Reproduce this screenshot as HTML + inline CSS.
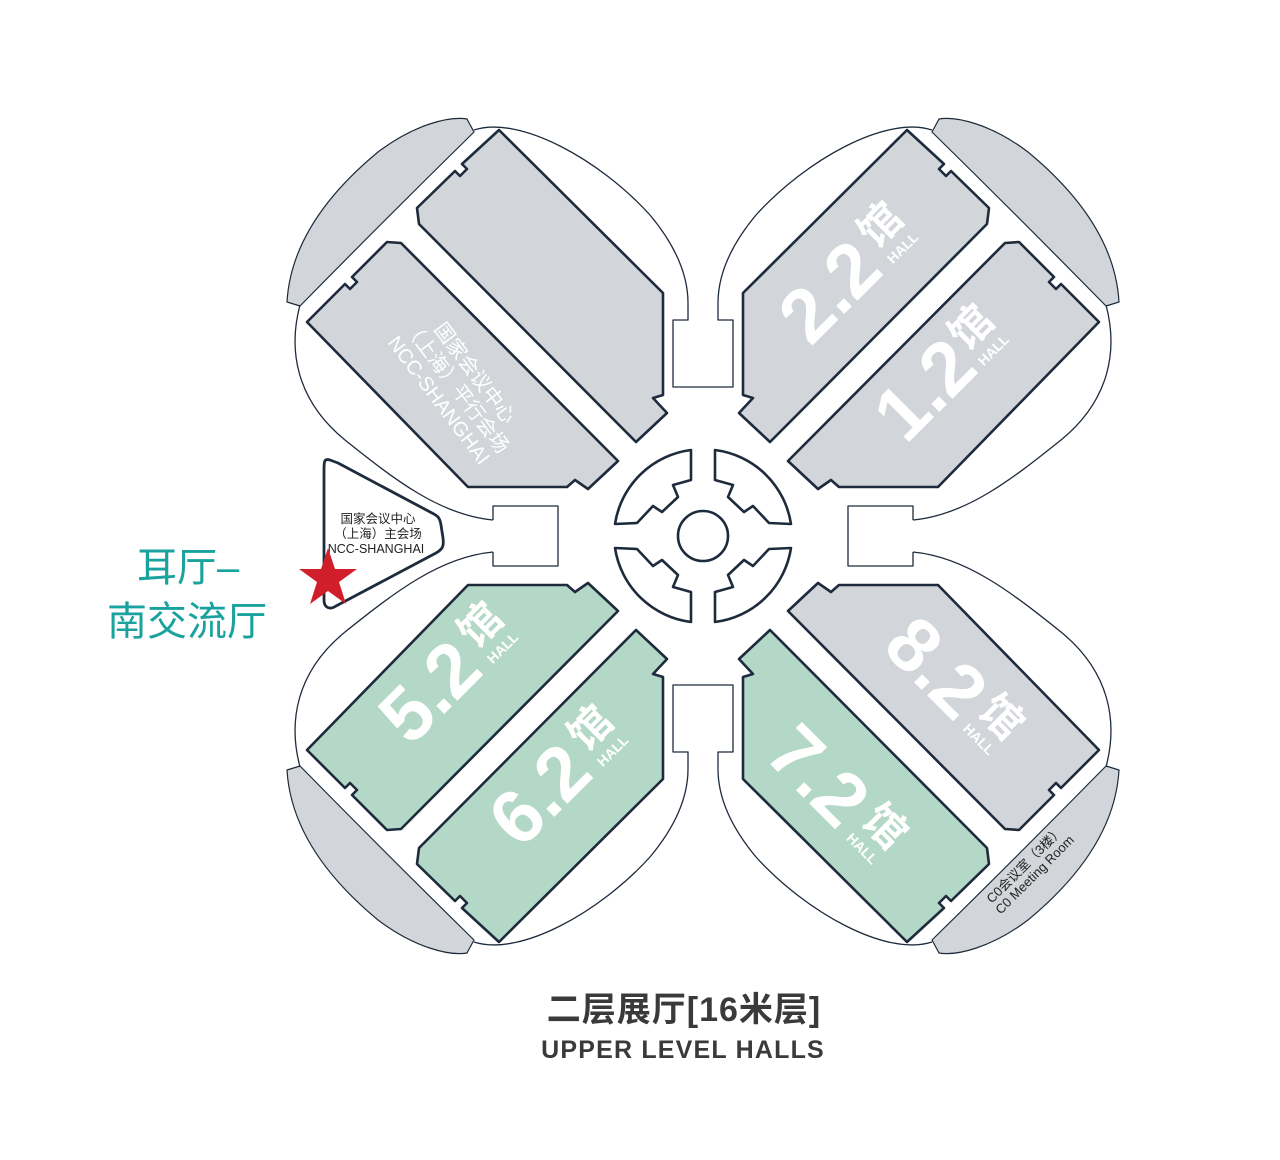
<!DOCTYPE html>
<html><head><meta charset="utf-8"><style>
html,body{margin:0;padding:0;background:#fff;}
svg{display:block;}
</style></head><body>
<svg width="1280" height="1160" viewBox="0 0 1280 1160" xmlns="http://www.w3.org/2000/svg">
<defs>
<path id="cap" d="M287,302 C290,250 320,200 378,152 C415,124 450,116 467,119 L474,132 C420,185 355,250 300,306 Z"/>
<path id="petal" d="M300,305 C288,350 296,400 345,440 C395,480 440,515 493,520 M474,130 C520,115 600,160 650,215 C675,245 688,275 688,303"/>
<path id="hallA" d="M417,208 L455,171 L460,176 L467,169 L462,164 L499,130 L663,293 L663,395 L653,398 L667,413 L636,442 L419,224 Z"/>
<path id="hallB" d="M307,322 L345,284 L350,289 L357,282 L352,277 L387,242 L401,243 L618,461 L588,489 L575,480 L567,487 L468,487 Z"/>
<path id="seg" d="M615,524 A88,88 0 0 1 691,450 L691,480 L673,485 L678,497 L662,512 L653,506 L637,523 Z"/>
</defs>

<g stroke="#1e2b3c" stroke-linejoin="round">
 <g fill="#d2d5d9" stroke-width="1.2">
  <use href="#cap"/>
  <use href="#cap" transform="translate(1406,0) scale(-1,1)"/>
  <use href="#cap" transform="translate(0,1072) scale(1,-1)"/>
  <use href="#cap" transform="translate(1406,1072) scale(-1,-1)"/>
 </g>
 <g fill="none" stroke-width="1.3">
  <use href="#petal"/>
  <use href="#petal" transform="translate(1406,0) scale(-1,1)"/>
  <use href="#petal" transform="translate(0,1072) scale(1,-1)"/>
  <use href="#petal" transform="translate(1406,1072) scale(-1,-1)"/>
  <path d="M688,303 L688,320 L673,320 L673,387 L733,387 L733,320 L718,320 L718,303"/>
  <path d="M688,769 L688,752 L673,752 L673,685 L733,685 L733,752 L718,752 L718,769"/>
  <path d="M493,520 L493,506 L558,506 L558,566 L493,566 L493,552"/>
  <path d="M913,520 L913,506 L848,506 L848,566 L913,566 L913,552"/>
 </g>
 <g stroke-width="2.6">
  <use href="#hallA" fill="#d2d5d9"/>
  <use href="#hallB" fill="#d2d5d9"/>
  <use href="#hallA" fill="#d2d5d9" transform="translate(1406,0) scale(-1,1)"/>
  <use href="#hallB" fill="#d2d5d9" transform="translate(1406,0) scale(-1,1)"/>
  <use href="#hallA" fill="#b4d8c7" transform="translate(0,1072) scale(1,-1)"/>
  <use href="#hallB" fill="#b4d8c7" transform="translate(0,1072) scale(1,-1)"/>
  <use href="#hallA" fill="#b4d8c7" transform="translate(1406,1072) scale(-1,-1)"/>
  <use href="#hallB" fill="#d2d5d9" transform="translate(1406,1072) scale(-1,-1)"/>
 </g>
 <g fill="#fff" stroke-width="2.6">
  <use href="#seg"/>
  <use href="#seg" transform="translate(1406,0) scale(-1,1)"/>
  <use href="#seg" transform="translate(0,1072) scale(1,-1)"/>
  <use href="#seg" transform="translate(1406,1072) scale(-1,-1)"/>
  <circle cx="703" cy="536" r="25"/>
 </g>
 <path d="M330,460 C324,458 324,462 324,470 L324,600 C324,608 330,610 336,606 L436,553 C443,549 444,546 443,538 L441,525 C440,518 438,516 432,513 L338,463 Z" fill="#fff" stroke-width="2.8"/>
</g>

<g font-family="'Liberation Sans','Noto Sans CJK SC',sans-serif" font-size="12.5" fill="#222" text-anchor="middle">
 <text x="378" y="523">国家会议中心</text>
 <text x="378" y="538">（上海）主会场</text>
 <text x="376" y="553">NCC-SHANGHAI</text>
</g>

<polygon points="328,548 335,569 357,569 339,582 346,604 328,591 310,604 317,582 299,569 321,569" fill="#d01f2a"/>

<g font-family="'Liberation Sans','Noto Sans CJK SC',sans-serif" font-size="40" fill="#1aa39e">
 <text x="137" y="581">耳厅–</text>
 <text x="107" y="635">南交流厅</text>
</g>

<g font-family="'Liberation Sans','Noto Sans CJK SC',sans-serif" font-size="20" fill="#fff" text-anchor="middle" transform="translate(455,388) rotate(53)">
 <text x="0" y="-18">国家会议中心</text>
 <text x="0" y="5">（上海）平行会场</text>
 <text x="0" y="27">NCC-SHANGHAI</text>
</g>

<g font-family="'Liberation Sans','Noto Sans CJK SC',sans-serif" font-weight="bold" fill="#fff" dominant-baseline="central">
 <g transform="translate(830,292) rotate(-45)">
  <text x="0" y="0" font-size="76" text-anchor="middle">2.2</text>
  <text x="62" y="-12" font-size="42">馆</text>
  <text x="64" y="20" font-size="14">HALL</text>
 </g>
 <g transform="translate(925,390) rotate(-45)">
  <text x="0" y="0" font-size="76" text-anchor="middle">1.2</text>
  <text x="56" y="-12" font-size="42">馆</text>
  <text x="58" y="20" font-size="14">HALL</text>
 </g>
 <g transform="translate(430,692) rotate(-45)">
  <text x="0" y="0" font-size="76" text-anchor="middle">5.2</text>
  <text x="62" y="-12" font-size="42">馆</text>
  <text x="64" y="20" font-size="14">HALL</text>
 </g>
 <g transform="translate(540,795) rotate(-45)">
  <text x="0" y="0" font-size="76" text-anchor="middle">6.2</text>
  <text x="62" y="-12" font-size="42">馆</text>
  <text x="64" y="20" font-size="14">HALL</text>
 </g>
 <g transform="translate(936,668) rotate(45)">
  <text x="0" y="0" font-size="76" text-anchor="middle">8.2</text>
  <text x="60" y="-12" font-size="42">馆</text>
  <text x="62" y="20" font-size="14">HALL</text>
 </g>
 <g transform="translate(818,776) rotate(45)">
  <text x="0" y="0" font-size="76" text-anchor="middle">7.2</text>
  <text x="62" y="-12" font-size="42">馆</text>
  <text x="64" y="20" font-size="14">HALL</text>
 </g>
</g>

<g font-family="'Liberation Sans','Noto Sans CJK SC',sans-serif" font-size="13" fill="#222" text-anchor="middle" transform="translate(1030,870) rotate(-45)">
 <text x="0" y="-3">C0会议室（3楼）</text>
 <text x="0" y="11">C0 Meeting Room</text>
</g>

<text x="684" y="1021" text-anchor="middle" font-family="'Liberation Sans','Noto Sans CJK SC',sans-serif" font-size="34" font-weight="bold" fill="#3a3a3a" letter-spacing="1">二层展厅[16米层]</text>
<text x="683" y="1058" text-anchor="middle" font-family="'Liberation Sans',sans-serif" font-size="25" font-weight="bold" fill="#3a3a3a" letter-spacing="1.2">UPPER LEVEL HALLS</text>
</svg>
</body></html>
